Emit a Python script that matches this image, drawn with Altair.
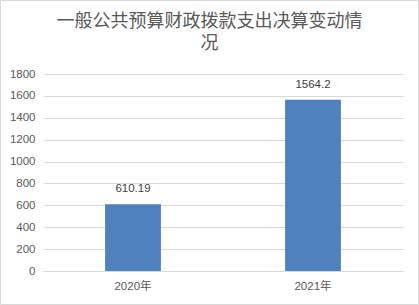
import altair as alt
import pandas as pd

years = ["2020年", "2021年"]
values = [610.19, 1564.2]
labels = ["610.19", "1564.2"]
y_ticks = [0, 200, 400, 600, 800, 1000, 1200, 1400, 1600, 1800]
title_lines = ["一般公共预算财政拨款支出决算变动情", "况"]

df = pd.DataFrame({"year": years, "value": values, "label": labels})

FONT = "Liberation Sans, Noto Sans CJK SC, sans-serif"
TXT = "#595959"
GRID = "#D9D9D9"

base = alt.Chart(df)

x_enc = alt.X("year:N", sort=years,
              scale=alt.Scale(paddingInner=0.69, paddingOuter=0.345),
              axis=alt.Axis(title=None, labelAngle=0, ticks=False, domain=True,
                            domainColor=GRID, labelColor=TXT, labelFontSize=11.5,
                            labelFont=FONT, labelPadding=9))
y_enc = alt.Y("value:Q",
              scale=alt.Scale(domain=[0, 1800], nice=False),
              axis=alt.Axis(title=None, values=y_ticks, format="d", labelOverlap=False,
                            tickCount=10, ticks=False, domain=False,
                            gridColor=GRID, labelColor=TXT, labelFontSize=11.5,
                            labelFont=FONT, labelPadding=8))

bars = base.mark_bar(color="#4F81BD").encode(x=x_enc, y=y_enc)

text = base.mark_text(dy=-10, baseline="bottom", fontSize=11.5, font=FONT, color="#404040").encode(
    x=x_enc, y=y_enc, text="label:N")

title1 = alt.Chart(df.head(1)).mark_text(
    text=title_lines[0], fontSize=18, font=FONT, color=TXT, align="center", baseline="middle"
).encode(x=alt.value(166.5), y=alt.value(-52))
title2 = alt.Chart(df.head(1)).mark_text(
    text=title_lines[1], fontSize=18, font=FONT, color=TXT, align="center", baseline="middle"
).encode(x=alt.value(166.5), y=alt.value(-30))

border = alt.Chart(df.head(1)).mark_rect(fill="transparent", stroke=GRID, strokeWidth=1).encode(
    x=alt.value(-42.5), x2=alt.value(375.5), y=alt.value(-73.5), y2=alt.value(230.5))

chart = alt.layer(bars, text, title1, title2, border).properties(
    width=360, height=197,
).configure(
    padding={"left": 43, "top": 74, "right": 16, "bottom": 34},
    autosize=alt.AutoSizeParams(type="none"),
).configure_view(stroke=None)

chart.save("out.html", embed_options={"renderer": "svg", "actions": False})
